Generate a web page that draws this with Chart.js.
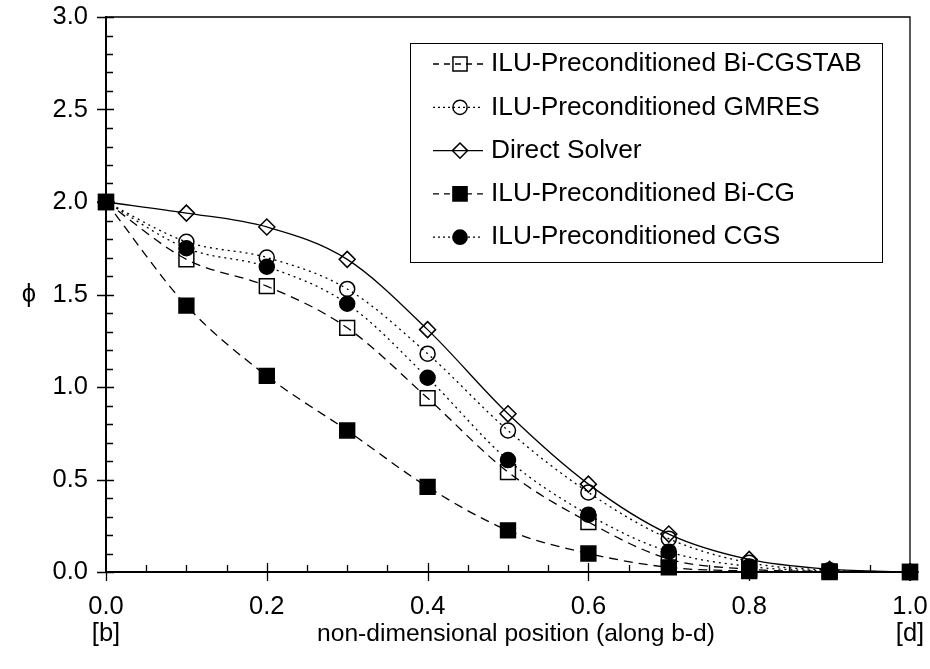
<!DOCTYPE html>
<html>
<head>
<meta charset="utf-8">
<script src="https://cdn.jsdelivr.net/npm/chart.js@4.4.0/dist/chart.umd.min.js"></script>
<style>
  html, body { margin: 0; padding: 0; background: #fff; }
</style>
</head>
<body>
<canvas id="phiChart" width="930" height="669"></canvas>
<script>
// positions along the b-d line
const positions = [0.0, 0.1, 0.2, 0.3, 0.4, 0.5, 0.6, 0.7, 0.8, 0.9, 1.0];

// phi values per solver
const phiBiCGSTAB = [2.0, 1.69, 1.545, 1.32, 0.94, 0.54, 0.27, 0.07, 0.015, 0.003, 0.0];
const phiGMRES    = [2.0, 1.785, 1.70, 1.53, 1.18, 0.765, 0.43, 0.18, 0.05, 0.01, 0.0];
const phiDirect   = [2.0, 1.94, 1.865, 1.69, 1.31, 0.855, 0.475, 0.205, 0.068, 0.015, 0.0];
const phiBiCG     = [2.0, 1.44, 1.06, 0.765, 0.46, 0.225, 0.10, 0.025, 0.005, 0.0, 0.0];
const phiCGS      = [2.0, 1.75, 1.65, 1.45, 1.05, 0.605, 0.31, 0.11, 0.03, 0.005, 0.0];

const seriesNames = [
    'ILU-Preconditioned Bi-CGSTAB',
    'ILU-Preconditioned GMRES',
    'Direct Solver',
    'ILU-Preconditioned Bi-CG',
    'ILU-Preconditioned CGS'
];

// end labels under the x axis
const xEndLabels = { 0: '[b]', 1: '[d]' };
const xTitle = 'non-dimensional position (along b-d)';
const yTitle = '\u03D5';

const FONT = "'Liberation Sans', Arial, sans-serif";
const FONT_SIZE = 25.5;

function toPoints(values) {
    return positions.map((x, i) => ({ x: x, y: values[i] }));
}

function series(label, values, style) {
    return Object.assign({
        label: label,
        data: toPoints(values),
        borderColor: '#000',
        pointBorderColor: '#000',
        borderWidth: 1.3,
        pointBorderWidth: 1.5,
        cubicInterpolationMode: 'monotone',
        fill: false,
        clip: false
    }, style);
}

const datasets = [
    series(seriesNames[0], phiBiCGSTAB, { borderDash: [9, 6], pointStyle: 'rect', pointRadius: 10.5, pointBackgroundColor: 'rgba(0,0,0,0)', order: 2 }),
    series(seriesNames[1], phiGMRES, { borderDash: [2, 4], pointStyle: 'circle', pointRadius: 7.5, pointBackgroundColor: 'rgba(0,0,0,0)', order: 2 }),
    series(seriesNames[2], phiDirect, { borderDash: [], pointStyle: 'rectRot', pointRadius: 8, pointBackgroundColor: 'rgba(0,0,0,0)', order: 2 }),
    series(seriesNames[3], phiBiCG, { borderDash: [9, 6], pointStyle: 'rect', pointRadius: 10.5, pointBackgroundColor: '#000', order: 1 }),
    series(seriesNames[4], phiCGS, { borderDash: [2, 4], pointStyle: 'circle', pointRadius: 7.5, pointBackgroundColor: '#000', order: 0 })
];

// tick marks, frame, axis titles and boxed legend
const decorations = {
    id: 'decorations',
    afterDraw(chart) {
        const ctx = chart.ctx;
        const area = chart.chartArea;
        const xs = chart.scales.x;
        const ys = chart.scales.y;
        ctx.save();
        ctx.strokeStyle = '#000';
        ctx.lineWidth = 1.3;
        ctx.setLineDash([]);

        // frame top and right
        ctx.beginPath();
        ctx.moveTo(area.left, area.top);
        ctx.lineTo(area.right, area.top);
        ctx.lineTo(area.right, area.bottom);
        ctx.stroke();

        // y ticks: major every 0.5, minor every 0.1
        ctx.beginPath();
        for (let i = 0; i <= 30; i++) {
            const py = Math.round(ys.getPixelForValue(i / 10)) + 0.5;
            if (i % 5 === 0) {
                ctx.moveTo(area.left - 9, py);
                ctx.lineTo(area.left + 8, py);
            } else {
                ctx.moveTo(area.left, py);
                ctx.lineTo(area.left + 7, py);
            }
        }
        // x ticks: major every 0.2, minor every 0.05
        for (let i = 0; i <= 20; i++) {
            const px = Math.round(xs.getPixelForValue(i / 20)) + 0.5;
            if (i % 4 === 0) {
                ctx.moveTo(px, area.bottom + 9);
                ctx.lineTo(px, area.bottom - (i === 0 ? 0 : 9));
            } else {
                ctx.moveTo(px, area.bottom);
                ctx.lineTo(px, area.bottom - 7);
            }
        }
        ctx.stroke();

        // axis titles
        ctx.fillStyle = '#000';
        ctx.textAlign = 'center';
        ctx.textBaseline = 'middle';
        ctx.font = '24.6px ' + FONT;
        ctx.fillText(xTitle, (area.left + area.right) / 2 + 8, area.bottom + 62);
        ctx.font = FONT_SIZE + 'px ' + FONT;
        ctx.fillText(yTitle, 29, (area.top + area.bottom) / 2);

        // legend box
        const box = { left: area.right - 500, top: area.top + 26, width: 472, height: 219 };
        ctx.lineWidth = 1;
        ctx.strokeRect(box.left + 0.5, box.top + 0.5, box.width, box.height);

        ctx.textAlign = 'left';
        ctx.font = '26.3px ' + FONT;
        chart.data.datasets.forEach((ds, i) => {
            const cy = box.top + 21 + i * 43.3;
            const x0 = box.left + 23;
            const x1 = box.left + 73;
            ctx.strokeStyle = '#000';
            ctx.lineWidth = ds.borderWidth;
            ctx.setLineDash(ds.borderDash.length ? (ds.borderDash[0] > 3 ? [6, 5] : [2, 3]) : []);
            ctx.beginPath();
            ctx.moveTo(x0, cy);
            ctx.lineTo(x1, cy);
            ctx.stroke();
            ctx.setLineDash([]);
            ctx.fillStyle = ds.pointBackgroundColor;
            ctx.lineWidth = ds.pointBorderWidth;
            Chart.helpers.drawPoint(ctx, {
                pointStyle: ds.pointStyle,
                radius: ds.pointRadius * 0.95,
                rotation: 0,
                borderWidth: ds.pointBorderWidth
            }, (x0 + x1) / 2 + 2, cy);
            ctx.fillStyle = '#000';
            ctx.fillText(ds.label, box.left + 81, cy);
        });
        ctx.restore();
    }
};

const phiChart = new Chart(document.getElementById('phiChart').getContext('2d'), {
    type: 'line',
    data: { datasets: datasets },
    options: {
        responsive: false,
        animation: false,
        layout: { padding: { top: 17, right: 20, left: 0, bottom: 0 } },
        plugins: {
            legend: { display: false },
            tooltip: { enabled: false }
        },
        scales: {
            x: {
                type: 'linear',
                min: 0,
                max: 1,
                grid: { display: false, drawTicks: false },
                border: { display: true, color: '#000', width: 2 },
                ticks: {
                    stepSize: 0.2,
                    padding: 22,
                    color: '#000',
                    maxRotation: 0,
                    font: { family: FONT, size: FONT_SIZE, lineHeight: 1.05 },
                    callback: function(value) {
                        const txt = value.toFixed(1);
                        return xEndLabels[value] !== undefined ? [txt, xEndLabels[value]] : txt;
                    }
                },
                afterFit: function(scale) {
                    scale.height = 97;
                    scale.paddingLeft = 0;
                    scale.paddingRight = 0;
                }
            },
            y: {
                min: 0,
                max: 3,
                grid: { display: false, drawTicks: false },
                border: { display: true, color: '#000', width: 2 },
                ticks: {
                    stepSize: 0.5,
                    padding: 18,
                    color: '#000',
                    font: { family: FONT, size: FONT_SIZE },
                    callback: function(value) {
                        return value.toFixed(1);
                    }
                },
                afterFit: function(scale) {
                    scale.width = 106;
                    scale.paddingTop = 0;
                    scale.paddingBottom = 0;
                }
            }
        }
    },
    plugins: [decorations]
});
</script>
</body>
</html>
